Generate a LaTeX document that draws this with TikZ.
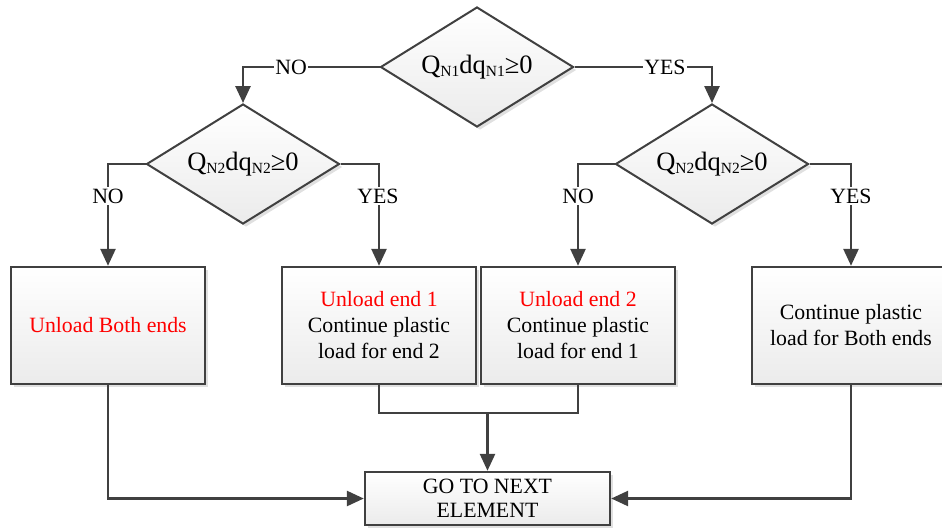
\documentclass[tikz,border=0pt]{standalone}
\usepackage{fontspec}
\IfFontExistsTF{LiberationSerif-Regular.ttf}
  {\setmainfont{LiberationSerif-Regular.ttf}}
  {\setmainfont{Liberation Serif}}
\usetikzlibrary{shapes.geometric,arrows.meta,shadows}
\definecolor{linegray}{HTML}{404040}
\definecolor{boxgray}{HTML}{EBEBEB}
\definecolor{txtred}{HTML}{FF0000}
\newcommand\mysub[1]{\raisebox{-3pt}{\fontsize{15.5}{16}\selectfont #1}}
\begin{document}
\begin{tikzpicture}[x=1pt,y=-1pt,
  font=\fontsize{21.8}{26}\selectfont,
  line/.style={draw=linegray, line width=2.6pt},
  arr/.style={line, -{Triangle[length=17pt,width=15pt]}},
  shade/.style={top color=white, bottom color=boxgray,
    drop shadow={shadow xshift=3pt, shadow yshift=-3pt, fill=black, opacity=0.12}},
  box/.style={draw=linegray, line width=2.4pt, rectangle, shade, align=center, inner sep=0pt},
  dec/.style={draw=linegray, line width=2pt, diamond, aspect=1.6, shade, inner sep=0pt,
    minimum width=193pt, minimum height=120pt, font=\fontsize{26.5}{28}\selectfont},
  lbl/.style={fill=white, inner sep=1.5pt, font=\fontsize{21.8}{23}\selectfont}]
\useasboundingbox (0,0) rectangle (942,528);

% decisions
\node[dec] (d1) at (477,67) {Q\mysub{N1}dq\mysub{N1}≥0};
\node[dec] (d2l) at (243,164) {Q\mysub{N2}dq\mysub{N2}≥0};
\node[dec] (d2r) at (712,164) {Q\mysub{N2}dq\mysub{N2}≥0};

% boxes
\node[box, minimum width=194pt, minimum height=117pt] (b1) at (108,325.5)
  {\textcolor{txtred}{Unload Both ends}};
\node[box, minimum width=194pt, minimum height=117pt] (b2) at (379,325.5)
  {\textcolor{txtred}{Unload end 1}\\Continue plastic\\load for end 2};
\node[box, minimum width=194pt, minimum height=117pt] (b3) at (578,325.5)
  {\textcolor{txtred}{Unload end 2}\\Continue plastic\\load for end 1};
\node[box, minimum width=198pt, minimum height=117pt] (b4) at (851,325.5)
  {Continue plastic\\load for Both ends};
\node[box, minimum width=245pt, minimum height=53pt, font=\fontsize{21.8}{24}\selectfont] (go) at (487.5,498.5)
  {GO TO NEXT\\ELEMENT};

% connectors
\draw[arr] (d1.west) -| (d2l.north);
\draw[arr] (d1.east) -| (d2r.north);
\draw[arr] (d2l.west) -| (b1.north);
\draw[arr] (d2l.east) -| (b2.north);
\draw[arr] (d2r.west) -| (b3.north);
\draw[arr] (d2r.east) -| (b4.north);
\coordinate (j) at (487.5,413);
\draw[line] (b2.south) -- (b2.south |- j) -- (b3.south |- j) -- (b3.south);
\draw[arr] (j) -- (go.north);
\draw[arr] (b1.south) |- (go.west);
\draw[arr] (b4.south) |- (go.east);

% labels
\node[lbl] (l1) at (291,67) {NO};
\node[lbl] (l2) at (665,67) {YES};
\node[lbl] (l3) at (108,196) {NO};
\node[lbl] (l4) at (378,196) {YES};
\node[lbl] (l5) at (578,196) {NO};
\node[lbl] (l6) at (851,196) {YES};
\end{tikzpicture}
\end{document}
